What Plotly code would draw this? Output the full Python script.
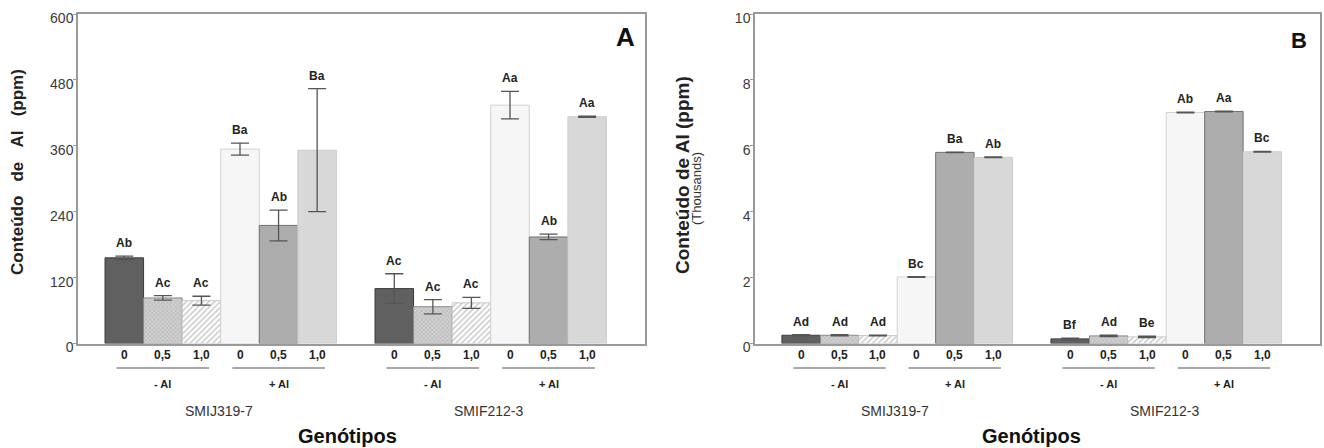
import plotly.graph_objects as go

# ---------------- data ----------------
genotypes = ["SMIJ319-7", "SMIF212-3"]
al_groups = ["- Al", "+ Al"]
doses = ["0", "0,5", "1,0", "0", "0,5", "1,0"]

# Panel A: Al content (ppm)
a_smij = [156, 83, 78, 354, 215, 352]
a_smij_err = [3, 4, 8, 11, 28, 112]
a_smif = [100, 67, 74, 434, 194, 413]
a_smif_err = [27, 13, 10, 25, 5, 1]
a_smij_letters = ["Ab", "Ac", "Ac", "Ba", "Ab", "Ba"]
a_smif_letters = ["Ac", "Ac", "Ac", "Aa", "Ab", "Aa"]

# Panel B: Al content (ppm, thousands)
b_smij = [0.25, 0.25, 0.24, 2.02, 5.80, 5.65]
b_smij_err = [0.02, 0.02, 0.01, 0.01, 0.01, 0.01]
b_smif = [0.14, 0.23, 0.20, 7.01, 7.04, 5.82]
b_smif_err = [0.02, 0.02, 0.02, 0.01, 0.01, 0.01]
b_smij_letters = ["Ad", "Ad", "Ad", "Bc", "Ba", "Ab"]
b_smif_letters = ["Bf", "Ad", "Be", "Ab", "Aa", "Bc"]

# ---------------- styles ----------------
FONT = "Liberation Sans, Arial, sans-serif"
styles = [
    dict(color="#606060", line="#3c3c3c", pattern=None),
    dict(color="#c6c6c6", line="#8a8a8a",
         pattern=dict(shape="x", fgcolor="#8c8c8c", bgcolor="#d0d0d0", size=3, solidity=0.3)),
    dict(color="#ffffff", line="#c8c8c8",
         pattern=dict(shape="/", fgcolor="#8a8a8a", bgcolor="#ffffff", size=4, solidity=0.35)),
    dict(color="#f6f6f6", line="#d2d2d2", pattern=None),
    dict(color="#adadad", line="#727272", pattern=None),
    dict(color="#d8d8d8", line="#cdcdcd", pattern=None),
]

W, H = 1324, 448
def px(xp):
    return xp / W
def py(yp):
    return 1 - yp / H

GAP = 7  # position offset of second genotype

fig = go.Figure()

panels = [
    dict(xa="x", ya="y", v1=a_smij, e1=a_smij_err, v2=a_smif, e2=a_smif_err,
         l1=a_smij_letters, l2=a_smif_letters),
    dict(xa="x2", ya="y2", v1=b_smij, e1=b_smij_err, v2=b_smif, e2=b_smif_err,
         l1=b_smij_letters, l2=b_smif_letters),
]

annotations = []
shapes = []

def ann(**kw):
    d = dict(showarrow=False, xanchor="center", yanchor="middle")
    d.update(kw)
    annotations.append(d)

for p in panels:
    for i in range(6):
        st = styles[i]
        marker = dict(color=st["color"], line=dict(color=st["line"], width=1))
        if st["pattern"]:
            marker["pattern"] = st["pattern"]
        fig.add_trace(go.Bar(
            x=[i, GAP + i], y=[p["v1"][i], p["v2"][i]], width=1,
            marker=marker,
            error_y=dict(type="data", array=[p["e1"][i], p["e2"][i]],
                         color="#555555", thickness=1.3, width=9),
            xaxis=p["xa"], yaxis=p["ya"], showlegend=False, hoverinfo="skip",
        ))
        for g, (vals, errs, lets) in enumerate([(p["v1"], p["e1"], p["l1"]),
                                                (p["v2"], p["e2"], p["l2"])]):
            ann(x=g * GAP + i, y=vals[i] + errs[i], xref=p["xa"], yref=p["ya"],
                text="<b>%s</b>" % lets[i], yshift=13,
                font=dict(family=FONT, size=12, color="#222222"))
            ann(x=g * GAP + i, y=py(355), xref=p["xa"], yref="paper",
                text="<b>%s</b>" % doses[i],
                font=dict(family=FONT, size=12, color="#222222"))
    for g in range(2):
        for k in range(2):
            x0 = g * GAP + k * 3
            shapes.append(dict(type="line", xref=p["xa"], yref="paper",
                               x0=x0 - 0.2, x1=x0 + 2.2, y0=py(368), y1=py(368),
                               line=dict(color="#a8a8a8", width=2)))
            ann(x=x0 + 1, y=py(384), xref=p["xa"], yref="paper",
                text="<b>%s</b>" % al_groups[k],
                font=dict(family=FONT, size=11, color="#222222"))
        ann(x=g * GAP + 2.45, y=py(411), xref=p["xa"], yref="paper",
            text=genotypes[g], font=dict(family=FONT, size=14, color="#333333"))

# axis titles and panel letters
nb = "\u00a0"
ann(x=px(17), y=py(172), xref="paper", yref="paper", textangle=-90,
    text="<b>Conteúdo" + nb * 3 + "de" + nb * 3 + "Al" + nb * 3 + "(ppm)</b>",
    font=dict(family=FONT, size=17, color="#222222"))
ann(x=px(682), y=py(175), xref="paper", yref="paper", textangle=-90,
    text="<b>Conteúdo de Al (ppm)</b>",
    font=dict(family=FONT, size=19, color="#222222"))
ann(x=px(696), y=py(188), xref="paper", yref="paper", textangle=-90,
    text="(Thousands)", font=dict(family=FONT, size=13, color="#333333"))
ann(x=px(347), y=py(436), xref="paper", yref="paper", text="<b>Genótipos</b>",
    font=dict(family=FONT, size=20, color="#111111"))
ann(x=px(1031), y=py(436), xref="paper", yref="paper", text="<b>Genótipos</b>",
    font=dict(family=FONT, size=20, color="#111111"))
ann(x=px(625), y=py(37), xref="paper", yref="paper", text="<b>A</b>",
    font=dict(family=FONT, size=26, color="#111111"))
ann(x=px(1299), y=py(40), xref="paper", yref="paper", text="<b>B</b>",
    font=dict(family=FONT, size=22, color="#111111"))

xcommon = dict(range=[-1.2, 13.5], showticklabels=False, ticks="", showgrid=False,
               zeroline=False, showline=True, mirror=True, linecolor="#9a9a9a",
               linewidth=1.5, fixedrange=True)
ycommon = dict(showgrid=False, zeroline=False, showline=True, mirror=True,
               linecolor="#9a9a9a", linewidth=1.5, ticks="outside", ticklen=3,
               tickcolor="#9a9a9a", tickfont=dict(family=FONT, size=14, color="#3a3a3a"),
               ticklabelstandoff=-3, ticklabelshift=4,
               fixedrange=True, automargin=False)

fig.update_layout(
    width=W, height=H, margin=dict(l=0, r=0, t=0, b=0, autoexpand=False),
    paper_bgcolor="white", plot_bgcolor="white", barmode="overlay",
    xaxis=dict(domain=[px(78), px(645)], anchor="y", **xcommon),
    yaxis=dict(domain=[py(343.5), py(14)], anchor="x", range=[0, 600],
               tickvals=[0, 120, 240, 360, 480, 600], **ycommon),
    xaxis2=dict(domain=[px(755), px(1320)], anchor="y2", **xcommon),
    yaxis2=dict(domain=[py(343.5), py(14)], anchor="x2", range=[0, 10],
                tickvals=[0, 2, 4, 6, 8, 10], **ycommon),
    annotations=annotations, shapes=shapes,
)

fig.write_html("out.html")
